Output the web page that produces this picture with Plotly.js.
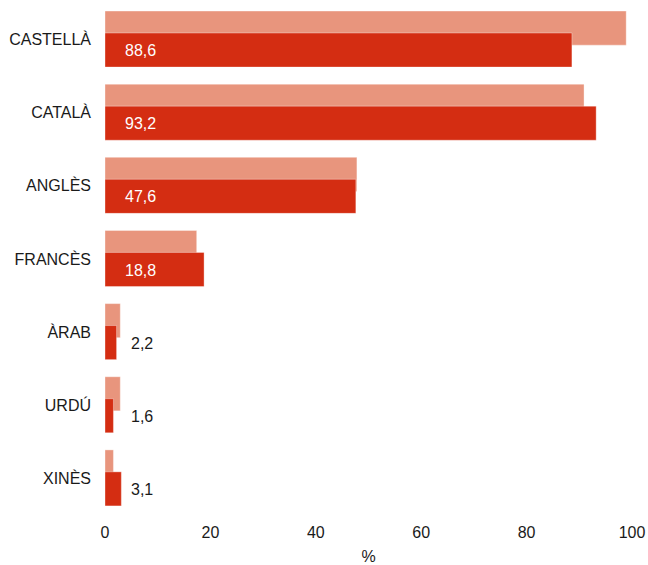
<!DOCTYPE html>
<html>
<head>
<meta charset="utf-8">
<script src="https://cdn.plot.ly/plotly-3.0.1.min.js"></script>
<style>html,body{margin:0;padding:0;background:#fff;}#chart{width:648px;height:565px;}</style>
</head>
<body>
<div id="chart"></div>
<script>
var categories = ["CASTELLÀ", "CATALÀ", "ANGLÈS", "FRANCÈS", "ÀRAB", "URDÚ", "XINÈS"];
var seriesLight = [98.9, 90.9, 47.8, 17.4, 2.9, 2.9, 1.6];
var seriesDark = [88.6, 93.2, 47.6, 18.8, 2.2, 1.6, 3.1];
var darkLabels = ["88,6", "93,2", "47,6", "18,8", "2,2", "1,6", "3,1"];
var xTicks = [0, 20, 40, 60, 80, 100];

var fontFam = "Liberation Sans, Arial, sans-serif";

var traceLight = {
  type: "bar", orientation: "h",
  y: categories, x: seriesLight,
  width: 0.466, offset: -0.39,
  marker: {color: "#E8957D", line: {color: "rgba(255,255,255,0.35)", width: 1}},
  hoverinfo: "x+y", showlegend: false
};
var traceDark = {
  type: "bar", orientation: "h",
  y: categories, x: seriesDark,
  width: 0.466, offset: -0.09,
  marker: {color: "#D42D12", line: {color: "rgba(255,255,255,0.35)", width: 1}},
  hoverinfo: "x+y", showlegend: false
};

var annotations = categories.map(function (c, i) {
  var inside = seriesDark[i] > 10;
  return {
    x: 0, y: c, xref: "x", yref: "y",
    text: darkLabels[i],
    showarrow: false, xanchor: "left", yanchor: "middle",
    xshift: inside ? 18 : 24, yshift: -11,
    font: {family: fontFam, size: 16, color: inside ? "#ffffff" : "#1a1a1a"}
  };
});

var layout = {
  width: 648, height: 565,
  margin: {l: 105, r: 16, t: 3, b: 50},
  paper_bgcolor: "#ffffff", plot_bgcolor: "#ffffff",
  barmode: "overlay",
  font: {family: fontFam, size: 16, color: "#1a1a1a"},
  xaxis: {
    range: [0, 100], tickvals: xTicks, ticktext: xTicks.map(String),
    showgrid: false, zeroline: false, showline: false, ticks: "",
    ticklabelstandoff: 6,
    tickfont: {family: fontFam, size: 16, color: "#1a1a1a"},
    title: {text: "%", font: {family: fontFam, size: 16, color: "#1a1a1a"}, standoff: 12},
    fixedrange: true
  },
  yaxis: {
    type: "category", categoryorder: "array", categoryarray: categories,
    range: [6.5, -0.5],
    showgrid: false, zeroline: false, showline: false, ticks: "",
    ticklabelstandoff: 13,
    tickfont: {family: fontFam, size: 16, color: "#1a1a1a"},
    fixedrange: true
  },
  annotations: annotations
};

Plotly.newPlot("chart", [traceLight, traceDark], layout, {displayModeBar: false, staticPlot: true});
</script>
</body>
</html>
